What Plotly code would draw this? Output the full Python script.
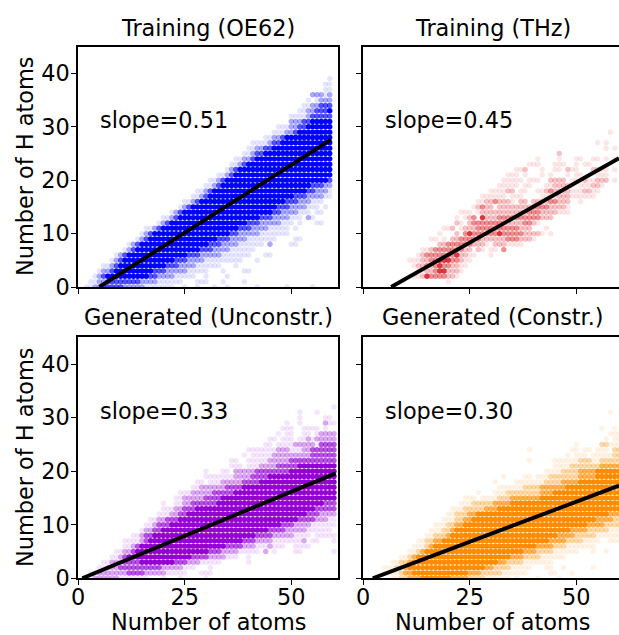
import re
import plotly.graph_objects as go

# Each row: number of H atoms -> runs of atom counts at a density level (a faint ... d solid)
OE62_ROWS = {
39:"a59",38:"a58-59",37:"a58 a59",36:"b55-57 a58 b59",35:"a54 a56 b57-59",34:"a53-54 b55-56 c57-59",
33:"a52-53 b54-55 c56-58 d59",32:"a50-53 b54 c55-59",31:"b50-52 c53-54 d55-59",30:"a47-49 b50-51 c52-53 d54-59",
29:"a46-48 b49-50 c51 d52-59",28:"a44-45 b46-47 c48 d49-59",27:"a41-42 a43-44 b45 c46-47 d48-59",
26:"a40-41 b42-43 c44-45 d46-59",25:"a39-40 b41 c42-43 d44-59",24:"a37-38 b39-40 c41 d42-59",23:"a36-37 b38 c39 d40-59",
22:"a35 b36 c37 d38-59",21:"a33-34 b35 c36 d37-59",20:"a31-32 b33 c34 d35-58 c59",19:"a30-31 b32 c33 d34-54 c55-57 b58-59",
18:"a28-29 b30 c31 d32-53 c54-55 b56-58 a59",17:"a27-28 b29 c30 d31-50 c51-53 b54-57 a58-59",
16:"a25-26 b27 c28 d29-48 c49-51 b52-54 a55-57",15:"a24 b25 c26 d27-46 c47-49 b50-53 a54-56 a58",
14:"a22 b23 c24 d25-45 c46-47 b48-51 a52-54 a56 a57",13:"a20-21 b22 c23 d24-42 c43-45 b46-49 a50-52 b54 a55",
12:"a19 b20 c21 d22-39 c40-42 b43-47 a48-50 a52 a56-57",11:"a16-17 b18 c19 d20-37 c38-40 b41-44 a45-49 a51",
10:"a15 b16 c17 d18-35 c36-37 b38-42 a43-49",9:"a14 b15 c16 d17-32 c33-35 b36-39 a40-46 a51-52",
8:"a12 b13 c14 d15-30 c31-33 b34-37 a38-43 b45 a50-51",7:"a11 b12 c13 d14-28 c29-31 b32-35 a36-41",
6:"a9 b10 c11 d12-25 c26-28 b29-33 a34-40 a44-45",5:"a8 b9 c10 d11-22 c23-25 b26-29 a30-38 a42",
4:"a6-7 b8 c9 d10-20 c21-23 b24-27 a28-33 a37",3:"a5 b6-7 c8 d9-17 c18-20 b21-25 a26-30 a34 a39-40",
2:"a4 b5 c6 d7-16 c17-18 b19-22 a23-27 a30 a35",1:"a3-4 b5-6 c7-14 b15-18 a19-24 a28-30 a34 a39",
0:"a2-3 b4-5 c6-10 b11-15 a16-22 a25 a28 a32 a35 a42 a49 a55",
}
THZ_ROWS = {
29:"a58",27:"a55 a57",26:"a57 a59",25:"b46",24:"a41 a46 a50-51 a54-55 a57 a59",23:"a39-41 a45-47 a50 a52-53",
22:"a36-37 b38 a42 a45-46 b48 a49-50 b54-55 a56-57 a59",21:"a34-36 a38 a42 a44 a48 a50-51 a55-57",
20:"a33-35 a36-37 a39-41 b44-47 a49-50 b52 a53-54 b55-57 a59",19:"a32-36 a38-39 a43-44 b45-48 a49 a51-53 b54-55 a56",
18:"a30-33 b34-35 a37-38 a41-42 b43 c44 b45-48 a49-51 b52-53 a54-55",17:"a28-33 a35-37 a42-45 b46-48 a49-54",
16:"a27-28 b29-30 c31 b32-34 a35 b37-38 b40-43 c44-45 b46-48 a51",15:"a26 b27 c28 b29-30 b32-34 b35-39 c40-43 b44-47 a48",
14:"a23-25 a27 b28-38 c39-41 b42-45 a46-48",13:"a22 a24 b25 c26 d28 b29-31 c32-41 b42-44",
12:"b22 a23 b25 c26-33 b34-37 c38-39 b40 a41",11:"a19-20 b21 a23 b24-26 c27-36 b37-39 a43",
10:"a18 b22 c24 d25 c26-31 d32 c33-37 b38-41 a42 a44",9:"a16-17 a19 b21-22 c23-27 b28-33 c34-36 b37-39 a40",
8:"b18-19 c20-25 b26-28 a29 b31-33 a34-37",7:"a14-15 b16 c17-23 b24-25 b27 a28 a30-31 c33",
6:"a13 b14 c15-21 d22 b23-24 a25-26 a30",5:"a11-13 b14-15 c16-17 d18-20 c21-22 b23 a24-25",
4:"a12 b13-14 c15 b16 c17 d18 c19-20 b21-22 a23-24",3:"a13-14 b15-16 c17 d18-19 b20-22 a23",
2:"a12-13 b14 d15 c16-19 b20-21 a22",1:"a20",
}
UNCONSTR_ROWS = {
32:"a60",31:"a52 a56",30:"a52 a58-59",29:"a49 a52 b58 a59-60",28:"a48-50 a53-56 a58",27:"a47 a49-50 a53-54 a56 b57-60",
26:"a45-46 a48-50 a52-53 b54 a55 b56-60",25:"a44-45 a47-50 b51-55 c57-60",24:"a40-46 b47-49 a50-52 b53-54 c55-60",
23:"a39 a41-45 b46-54 c55-60",22:"a36-37 a40-44 b45-49 c50-52 c53-60",21:"a36-38 a40-42 b43-46 c47-51 d52-60",
20:"a30 a34-35 b37-41 c42-49 d50-60",19:"a30-36 b37-40 c41-44 d45-60",18:"a28-29 a31-33 b34-38 c39-42 d43-60",
17:"a27-28 b29-34 c35-38 d39-60",16:"a24-26 b27-31 c32-36 d37-60",15:"a23-24 b25-29 c30-33 d34-60",
14:"a20 a23-24 b25-26 c27-32 d33-57 c58-60",13:"a20-22 b23-24 c25-27 d28-55 c56-60",12:"a19-21 b22-23 c24-25 d26-53 c54-56 b57-60",
11:"a17-18 b19-20 c21-23 d24-51 c52-55 b56-58 a59-60",10:"a16-17 b18 c19-21 d22-47 c48-50 b51-54 a55-60",
9:"a15 b16-17 c18-19 d20-44 c45-48 b49-53 a54-59",8:"a13-14 b15 c16-17 d18-41 c42-45 b46-50 a51-54 a56-60",
7:"a11-14 b15 c16 d17-38 c39-41 b42-45 a46-52 b53 a55-56 a60",6:"a11-12 b13 c14 d15-34 c35-38 b39-41 a42-44 b45 a46-48 a51-54",
5:"a9-10 b11-12 c13 d14-30 c31-33 b34-37 a38-42 b44 a46 a51-52 a60",4:"a8-9 b10 c11 d12-26 c27-30 b31-34 a35-37 a40",
3:"a6-7 b8-10 c11-14 d15-22 c23-25 b26-28 a29-33 a40",2:"a5-6 b7-9 c10-19 b20-24 a25-27 a31",
1:"a3-4 b5-11 c12-15 b16-20 a21-25 a29-31",0:"b4-9 a10-16 a20 a24 a30",
}
CONSTR_ROWS = {
31:"a58",28:"a56 a59",27:"a58-60",26:"a57 a59-60",25:"a50 b56-57 a58-60",24:"a39 a49-50 a52-53 a55-57 b59-60",
23:"a48 a50-52 a54-58 b59-60",22:"a39 a45-50 b51-53 a54-55 b56-60",21:"a45-48 b49-55 c56-60",20:"a43-46 b47-50 c51-54 d55-60",
19:"a33 a38-39 a41-43 b44-50 c51-54 d55-60",18:"a31 a36-42 b43-46 c47-50 d51-60",17:"a32-37 b38-41 c42-47 d48-60",
16:"a27 a31-33 b34-41 c42-44 d45-60",15:"a24-26 a28-31 b32-34 c35-41 d42-60",14:"a23-25 b26-30 c31-34 d35-60",
13:"a21-23 b24-28 c29-31 d32-60",12:"a20-21 b22-24 c25-26 d27-57 c58-60",11:"a19-21 b22-23 c24-25 d26-54 c55-58 b59-60",
10:"a17-19 b20-21 c22-23 d24-52 c53-56 b57-60",9:"a16-18 b19-20 c21 d22-48 c49-52 b53-57 a58-60",
8:"a15-16 b17-19 c20 d21-45 c46-49 b50-54 a55-60",7:"a13-14 b15-16 c17-18 d19-43 c44-47 b48-51 a52-55 a58-60",
6:"a12-14 b15 c16 d17-40 c41-44 b45-47 a48-54",5:"a11-12 b13 c14 d15-37 c38-40 b41-44 a45-50 a54 a57",
4:"a9-10 b11 c12 d13-34 c35-37 b38-41 a42-47",3:"a7-8 b9-10 c11 d12-31 c32-33 b34-37 a38-44",
2:"a5-7 b8-9 c10 d11-28 c29-30 b31-34 a35-39 a43-44 a47 a54",1:"a5-8 b9 c10-11 d12-24 c25-27 b28-32 a33-38 a44-45 a49",
0:"a7-8 b9-10 c11-13 d14-20 c21-24 b25-28 a29-34 a36 a41 a46",
}
TITLES = ["Training (OE62)", "Training (THz)", "Generated (Unconstr.)", "Generated (Constr.)"]
SLOPES = ["slope=0.51", "slope=0.45", "slope=0.33", "slope=0.30"]
COLORS = ["#0000ff", "#d7141e", "#9400d3", "#ff8c00"]
FIT_X = [[5.0, 59.3], [6.6, 60.0], [1.0, 60.4], [2.3, 60.0]]
FIT_Y = [[0, 27.6], [0, 24.1], [0, 19.6], [0, 17.3]]
X_TICKS = [0, 25, 50]
Y_TICKS = [0, 10, 20, 30, 40]
LEVELS = {"a": 0.1, "b": 0.34, "c": 0.68, "d": 1.0}
THZ_LEVELS = {"a": 0.1, "b": 0.26, "c": 0.48, "d": 0.85}

W, H = 619, 635
FONT = "DejaVu Sans"
TXT = 22.4
x_dom = [[78 / W, 338 / W], [363 / W, 1.0]]
x_rng = [[0, 60.94], [0, 60.0]]
y_dom = [[1 - 287 / H, 1 - 46.7 / H], [1 - 578.3 / H, 1 - 337.3 / H]]


def expand(rows):
    out = {k: ([], []) for k in LEVELS}
    for y, text in rows.items():
        for lvl, a, b in re.findall(r"([a-d])(\d+)(?:-(\d+))?", text):
            for x in range(int(a), int(b or a) + 1):
                out[lvl][0].append(x)
                out[lvl][1].append(y)
    return out


fig = go.Figure()
layout = {}
annotations = []
for i, rows in enumerate([OE62_ROWS, THZ_ROWS, UNCONSTR_ROWS, CONSTR_ROWS]):
    r, c = i // 2, i % 2
    n = "" if i == 0 else str(i + 1)
    pts = expand(rows)
    levels = THZ_LEVELS if i == 1 else LEVELS
    for lvl in "abcd":
        fig.add_trace(go.Scatter(x=pts[lvl][0], y=pts[lvl][1], mode="markers", xaxis="x" + n, yaxis="y" + n,
                                 marker=dict(size=5.4, color=COLORS[i], opacity=levels[lvl], line=dict(width=0)),
                                 showlegend=False, hoverinfo="skip"))
    fig.add_trace(go.Scatter(x=FIT_X[i], y=FIT_Y[i], mode="lines", xaxis="x" + n, yaxis="y" + n,
                             line=dict(color="black", width=3.9), showlegend=False, hoverinfo="skip"))
    common = dict(showgrid=False, zeroline=False, showline=True, linecolor="black", linewidth=1.6, automargin=False,
                  ticks="outside", ticklen=5, tickwidth=1.1, tickcolor="black",
                  tickfont=dict(family=FONT, size=TXT, color="black"))
    layout["xaxis" + n] = dict(domain=x_dom[c], range=x_rng[c], anchor="y" + n, tickvals=X_TICKS, mirror=True,
                               showticklabels=r == 1, ticklabelstandoff=-7, **common)
    layout["yaxis" + n] = dict(domain=y_dom[r], range=[0, 45], anchor="x" + n, tickvals=Y_TICKS, mirror=(c == 0),
                               showticklabels=c == 0, ticklabelstandoff=-3, **common)
    title_font = dict(family=FONT, size=TXT, color="black")
    top_px = [46.7, 337.3][r]
    cx = [208, 493][c]
    annotations.append(dict(text=TITLES[i], xref="paper", yref="paper", x=cx / W,
                            y=1 - (top_px - [4, 5][r]) / H,
                            xanchor="center", yanchor="bottom", showarrow=False, font=title_font))
    annotations.append(dict(text=SLOPES[i], xref="x" + n, yref="y" + n, x=5, y=30, xanchor="left", yanchor="bottom",
                            xshift=-1, yshift=-8, showarrow=False, font=title_font))
    if r == 1:
        annotations.append(dict(text="Number of atoms", xref="paper", yref="paper", x=[208, 493][c] / W, y=1 - 622 / H,
                                xanchor="center", yanchor="middle", showarrow=False, font=title_font))
    if c == 0:
        annotations.append(dict(text="Number of H atoms", xref="paper", yref="paper", x=25 / W,
                                y=1 - [167, 458][r] / H, xanchor="center", yanchor="middle", textangle=-90,
                                showarrow=False, font=title_font))

fig.update_layout(width=W, height=H, margin=dict(l=0, r=0, t=0, b=0, autoexpand=False),
                  paper_bgcolor="white", plot_bgcolor="white",
                  font=dict(family=FONT), annotations=annotations, **layout)
fig.write_html("out.html", config={"displayModeBar": False},
               post_script="document.body.style.margin='0';document.documentElement.style.overflow='hidden';")
